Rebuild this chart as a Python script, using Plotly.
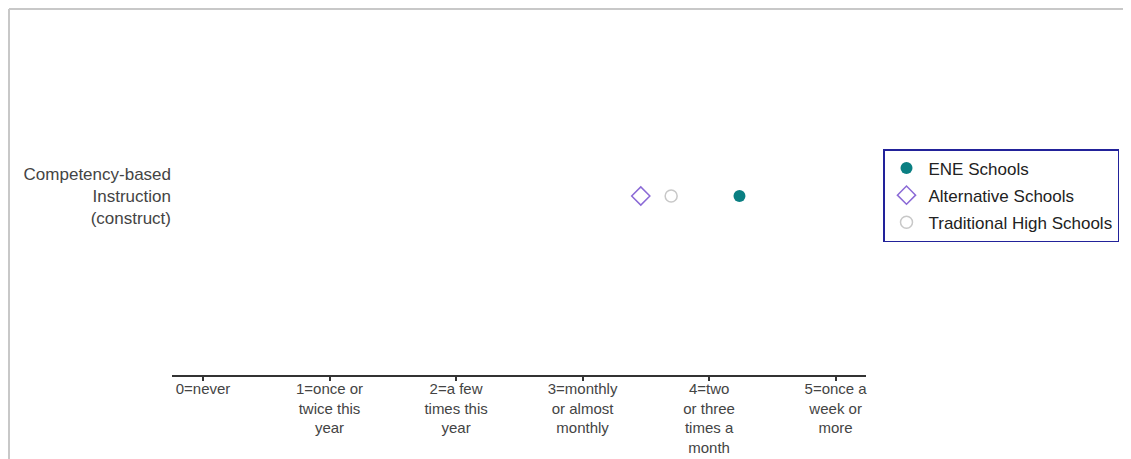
import plotly.graph_objects as go

category = ["Competency-based<br>Instruction<br>(construct)"]
series_names = ["ENE Schools", "Alternative Schools", "Traditional High Schools"]
ene_values = [4.24]
alt_values = [3.46]
trad_values = [3.70]
tick_vals = [0, 1, 2, 3, 4, 5]
tick_text = ["0=never", "1=once or<br>twice this<br>year", "2=a few<br>times this<br>year",
             "3=monthly<br>or almost<br>monthly", "4=two<br>or three<br>times a<br>month",
             "5=once a<br>week or<br>more"]

fig = go.Figure()
fig.add_trace(go.Scatter(x=ene_values, y=category, mode="markers", name=series_names[0],
                         legendgroup="a",
                         marker=dict(symbol="circle", size=12, color="#0a7f82")))
fig.add_trace(go.Scatter(x=alt_values, y=category, mode="markers", name=series_names[1],
                         legendgroup="b",
                         marker=dict(symbol="diamond-open", size=14, color="#8b6ad6",
                                     line=dict(width=1.5, color="#8b6ad6"))))
fig.add_trace(go.Scatter(x=trad_values, y=category, mode="markers", name=series_names[2],
                         legendgroup="c",
                         marker=dict(symbol="circle-open", size=12, color="#c8c8c8",
                                     line=dict(width=1.5, color="#c8c8c8"))))

# figure is placed at page offset (8, 8) by the page body margin
W, H = 1131, 459
L, T = 164, 9
pw, ph = 694, 358
R, B = W - L - pw, H - T - ph

def px(x):
    return (x - L) / pw

def py(y):
    return (H - B - y) / ph

fig.add_shape(type="line", xref="paper", yref="paper", x0=px(1), x1=px(W + 5), y0=py(1), y1=py(1),
              line=dict(color="#c8c8c8", width=2))
fig.add_shape(type="line", xref="paper", yref="paper", x0=px(1), x1=px(1), y0=py(1), y1=py(H + 5),
              line=dict(color="#c8c8c8", width=2))

fig.update_layout(
    width=W, height=H,
    margin=dict(l=L, r=R, t=T, b=B, autoexpand=False),
    paper_bgcolor="white", plot_bgcolor="white",
    font=dict(family="Liberation Sans, Arial, sans-serif", size=16, color="#444444"),
    showlegend=True,
    legend=dict(x=px(875), y=py(141), xanchor="left", yanchor="top",
                bordercolor="#22229a", borderwidth=1.5, bgcolor="white",
                font=dict(size=17, color="#222222"), itemwidth=34,
                traceorder="grouped", tracegroupgap=2),
    xaxis=dict(range=[-0.245, 5.24], tickvals=tick_vals, ticktext=tick_text, automargin=False,
               showgrid=False, zeroline=False, showline=True, linecolor="#333333", linewidth=2,
               ticks="outside", ticklen=4, tickcolor="#333333", tickwidth=1.5,
               ticklabelstandoff=-5,
               tickfont=dict(size=15, color="#444444")),
    yaxis=dict(showgrid=False, zeroline=False, showline=False, ticks="", automargin=False,
               tickfont=dict(size=17, color="#444444")),
)

fig.write_html("out.html")
